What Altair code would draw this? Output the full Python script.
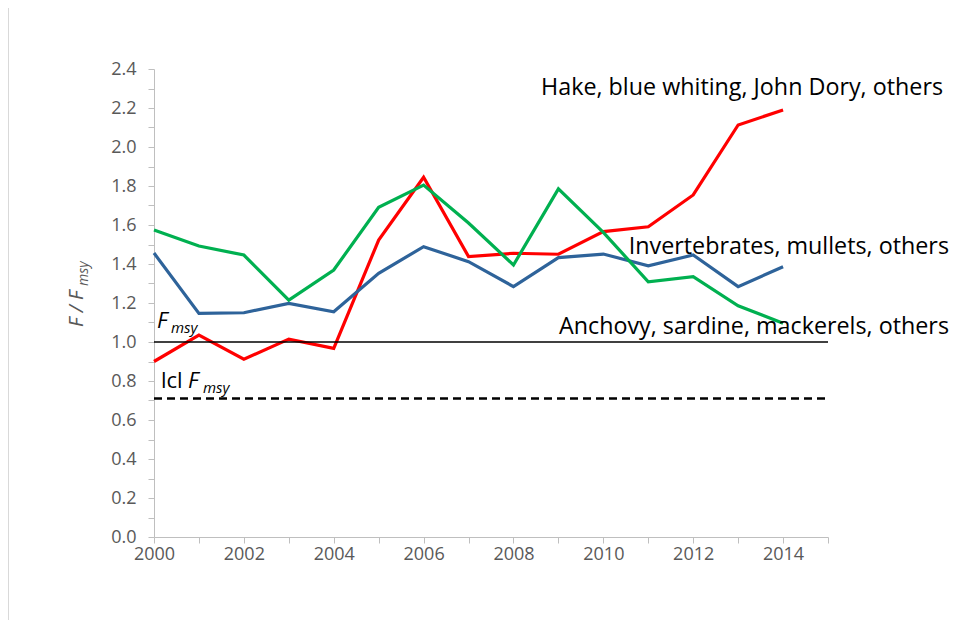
import altair as alt
import pandas as pd

years = list(range(2000, 2015))
hake = [0.90, 1.035, 0.912, 1.015, 0.967, 1.523, 1.845, 1.438, 1.455, 1.450, 1.566, 1.591, 1.754, 2.113, 2.19]
invert = [1.456, 1.147, 1.150, 1.198, 1.155, 1.352, 1.489, 1.412, 1.284, 1.433, 1.451, 1.391, 1.446, 1.284, 1.386]
anchovy = [1.574, 1.492, 1.446, 1.215, 1.369, 1.691, 1.805, 1.610, 1.395, 1.785, 1.562, 1.309, 1.335, 1.186, 1.096]
series_names = ["Hake, blue whiting, John Dory, others",
                "Invertebrates, mullets, others",
                "Anchovy, sardine, mackerels, others"]
series_colors = ["#FF0000", "#2E639A", "#00B050"]
fmsy = 1.0
lcl_fmsy = 0.71

rows = []
for name, vals in zip(series_names, [hake, invert, anchovy]):
    for y, v in zip(years, vals):
        rows.append({"year": y, "value": v, "series": name})
df = pd.DataFrame(rows)

W, H = 674, 468
xs = alt.Scale(domain=[2000, 2015], nice=False)
ys = alt.Scale(domain=[0, 2.4], nice=False)

tick_vals_y = [round(i * 0.1, 1) for i in range(25)]
tick_vals_x = list(range(2000, 2016))

base_axis = dict(labelFont="Open Sans", labelColor="#595959", labelFontSize=18,
                 domainColor="#BFBFBF", tickColor="#BFBFBF", grid=False, title=None,
                 labelOverlap=False)

x_axis = alt.Axis(values=tick_vals_x, format="d", tickSize=6, labelPadding=2,
                  labelExpr="datum.value % 2 == 0 && datum.value < 2015 ? format(datum.value, 'd') : ''",
                  labelFlush=False, **base_axis)
y_axis = alt.Axis(values=tick_vals_y, tickSize=6, labelPadding=12,
                  labelExpr="round(datum.value*10) % 2 == 0 ? format(datum.value, '.1f') : ''",
                  **base_axis)

lines = alt.Chart(df).mark_line(strokeWidth=3.2).encode(
    x=alt.X("year:Q", scale=xs, axis=x_axis),
    y=alt.Y("value:Q", scale=ys, axis=y_axis),
    color=alt.Color("series:N", scale=alt.Scale(domain=series_names, range=series_colors), legend=None),
    order=alt.Order("year:Q"),
)

ref = pd.DataFrame({"y": [fmsy, lcl_fmsy], "kind": ["fmsy", "lcl"]})
rule_f = alt.Chart(ref[ref.kind == "fmsy"]).mark_rule(color="black", strokeWidth=1.5).encode(
    y=alt.Y("y:Q", scale=ys, axis=y_axis), x=alt.datum(2000), x2=alt.datum(2015))
rule_l = alt.Chart(ref[ref.kind == "lcl"]).mark_rule(color="black", strokeWidth=2.5, strokeDash=[8, 5]).encode(
    y=alt.Y("y:Q", scale=ys, axis=y_axis), x=alt.datum(2000), x2=alt.datum(2015))

PX0, PY0 = 154, 69  # plot origin in page coordinates
def px(x):
    return x - PX0
def py(y):
    return y - PY0

def txt(text, x, y, size=20, style="normal", align="left", color="black", angle=0, baseline="alphabetic"):
    return alt.Chart(pd.DataFrame({"t": [text]})).mark_text(
        font="Open Sans", fontSize=size, fontStyle=style, align=align, baseline=baseline,
        color=color, angle=angle).encode(x=alt.value(px(x)), y=alt.value(py(y)), text="t:N")

border = alt.Chart(pd.DataFrame({"k": [0]})).mark_rule(color="#D9D9D9", strokeWidth=1).encode(
    x=alt.value(px(8.5)), y=alt.value(py(8)), y2=alt.value(py(620)))

labels = [
    txt(series_names[0], 943, 95, size=23.3, align="right"),
    txt(series_names[1], 949, 254, size=23.3, align="right"),
    txt(series_names[2], 949, 334, size=23.3, align="right"),
    # F_msy label
    txt("F", 157, 328, size=22, style="italic"),
    txt("msy", 171, 333, size=15, style="italic"),
    # lcl F_msy label
    txt("lcl", 161, 388, size=22),
    txt("F", 188, 388, size=22, style="italic"),
    txt("msy", 203, 393, size=15, style="italic"),
    # y axis title
    txt("F / F", 83, 327, size=20, style="italic", color="#595959", angle=270),
    txt("msy", 88, 286, size=14, style="italic", color="#595959", angle=270),
]

chart = alt.layer(lines, rule_f, rule_l, border, *labels).properties(
    width=W, height=H,
    autosize=alt.AutoSizeParams(type="none"),
    padding={"left": PX0 - 8, "top": PY0 - 8, "right": 950 - PX0 - W, "bottom": 620 - PY0 - H},
).configure_view(stroke=None)

chart.save("out.html", embed_options={"renderer": "svg", "actions": False})
